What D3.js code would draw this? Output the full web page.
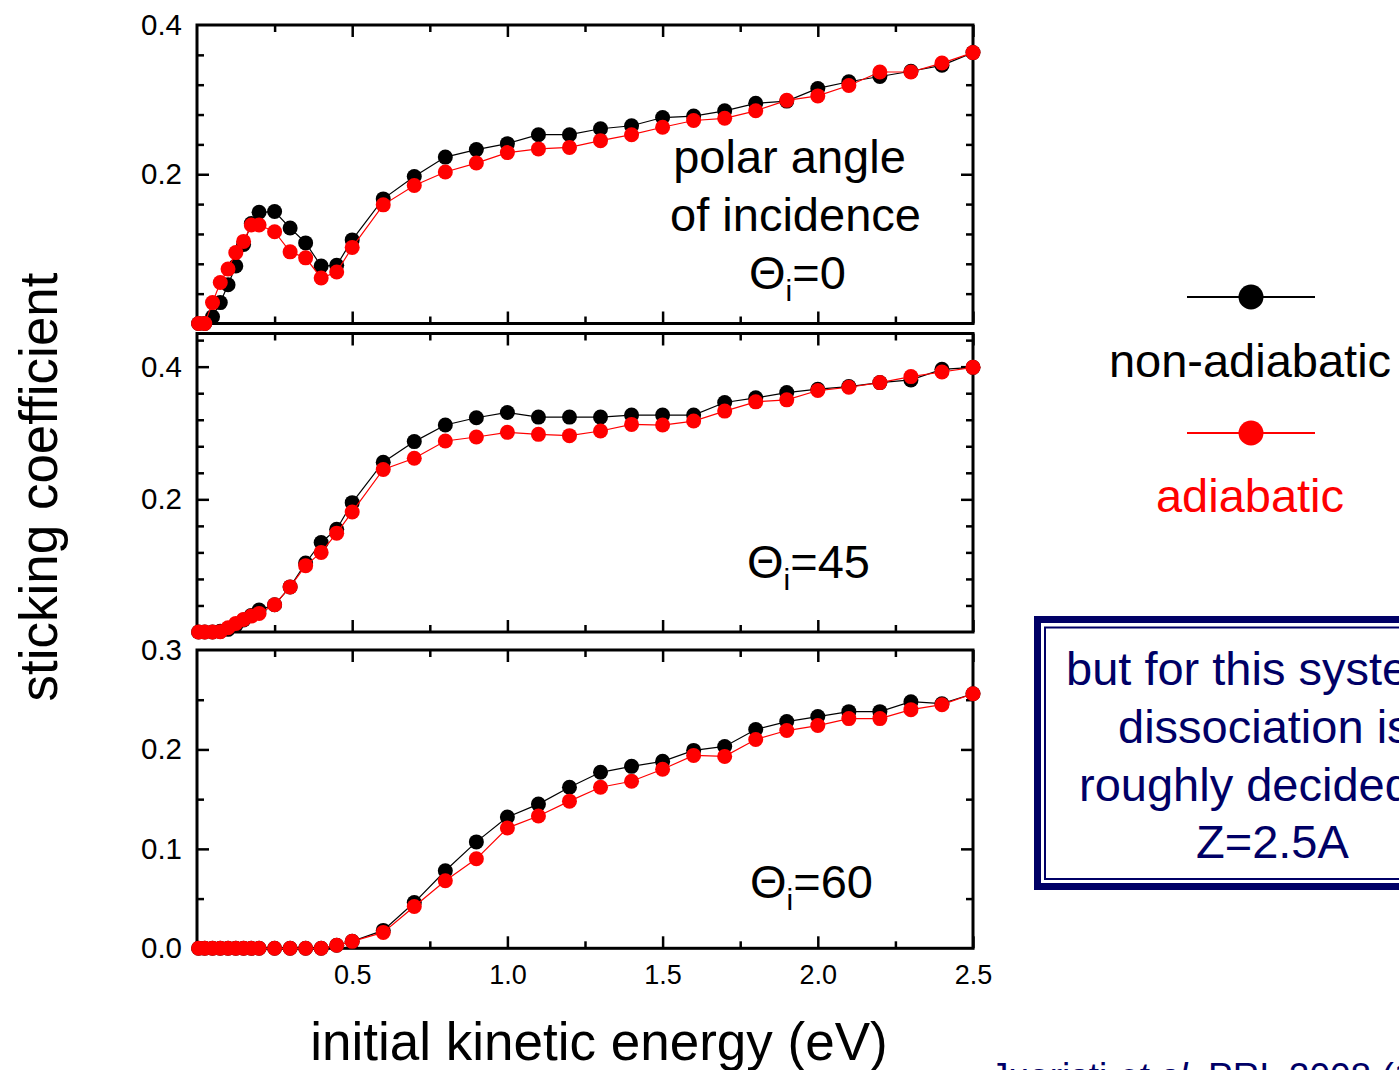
<!DOCTYPE html>
<html><head><meta charset="utf-8">
<script src="https://cdn.jsdelivr.net/npm/d3@7"></script>
<style>body{margin:0;background:#fff} svg{display:block} text{font-family:"Liberation Sans",Arial,sans-serif}</style>
</head><body>
<svg id="c" width="1399" height="1070"></svg>
<script>
// ---------- data ----------
const energies = [0.005,0.025,0.05,0.075,0.1,0.125,0.15,0.175,0.2,0.25,0.3,0.35,0.4,0.45,0.5,
  0.6,0.7,0.8,0.9,1.0,1.1,1.2,1.3,1.4,1.5,1.6,1.7,1.8,1.9,2.0,2.1,2.2,2.3,2.4,2.5];

const nonAdiabatic0 = [0,0,0.009,0.028,0.052,0.077,0.106,0.134,0.149,0.150,0.128,0.108,0.077,0.078,0.112,
  0.167,0.197,0.223,0.233,0.241,0.253,0.253,0.261,0.265,0.276,0.278,0.285,0.295,0.298,0.315,0.324,0.331,0.338,0.346,0.363];
const adiabatic0 = [0,0,0.028,0.055,0.073,0.095,0.110,0.132,0.132,0.123,0.096,0.088,0.061,0.069,0.102,
  0.159,0.185,0.203,0.215,0.229,0.234,0.236,0.245,0.253,0.263,0.272,0.275,0.285,0.299,0.305,0.319,0.337,0.337,0.349,0.363];

const nonAdiabatic45 = [0,0,0,0.001,0.004,0.010,0.018,0.025,0.033,0.041,0.068,0.104,0.135,0.155,0.195,
  0.256,0.287,0.312,0.323,0.331,0.324,0.324,0.324,0.327,0.327,0.327,0.346,0.353,0.361,0.366,0.370,0.376,0.380,0.396,0.399];
const adiabatic45 = [0,0,0,0.0005,0.0065,0.013,0.019,0.024,0.028,0.041,0.068,0.100,0.120,0.149,0.181,
  0.245,0.262,0.288,0.294,0.301,0.298,0.296,0.303,0.313,0.312,0.318,0.333,0.347,0.350,0.364,0.369,0.376,0.385,0.392,0.399];

const nonAdiabatic60 = [0,0,0,0,0,0,0,0,0,0,0,0,0,0.003,0.007,
  0.018,0.046,0.078,0.107,0.132,0.145,0.162,0.177,0.183,0.188,0.199,0.203,0.220,0.228,0.233,0.238,0.238,0.248,0.246,0.256];
const adiabatic60 = [0,0,0,0,0,0,0,0,0,0,0,0,0,0.003,0.007,
  0.016,0.042,0.068,0.090,0.121,0.133,0.148,0.162,0.168,0.180,0.194,0.193,0.210,0.219,0.224,0.231,0.231,0.240,0.245,0.256];

const xMajorTicks = [0.5,1.0,1.5,2.0,2.5];
const xMinorTicks = [0.25,0.75,1.25,1.75,2.25];
const xTickLabels = ["0.5","1.0","1.5","2.0","2.5"];
const panelAngles = ["0","45","60"];
const seriesNames = ["non-adiabatic","adiabatic"];
const boxLines = ["but for this system","dissociation is","roughly decided at","Z=2.5A"];

// ---------- layout ----------
const FONT = '"Liberation Sans",Arial,sans-serif';
const svg = d3.select("#c");
const X0 = 197, X1 = 973;
const x = d3.scaleLinear().domain([0,2.5]).range([X0,X1]);

const panels = [
  {top:25,  bottom:323.5, domain:[0,0.4],  majors:[0.2], minors:d3.range(1,10).map(i=>i*0.04).filter(v=>Math.abs(v-0.2)>1e-6),
   labels:[0.2,0.4], non:nonAdiabatic0, adi:adiabatic0},
  {top:333.5, bottom:632, domain:[0,0.45], majors:[0.2,0.4], minors:d3.range(1,12).map(i=>i*0.04).filter(v=>Math.abs(v-0.2)>1e-6&&Math.abs(v-0.4)>1e-6),
   labels:[0.2,0.4], non:nonAdiabatic45, adi:adiabatic45},
  {top:650, bottom:948.3, domain:[0,0.3], majors:[0.1,0.2], minors:[0.05,0.15,0.25],
   labels:[0.0,0.1,0.2,0.3], non:nonAdiabatic60, adi:adiabatic60}
];

function axis(gen, transform, values, size, fmt, pad, fs) {
  const g = svg.append("g").attr("transform", transform)
    .call(gen.tickValues(values).tickSize(size).tickFormat(fmt || (()=>"")).tickPadding(pad||0));
  g.select(".domain").remove();
  g.attr("font-family", FONT).attr("font-size", fs||10);
  g.selectAll(".tick line").attr("stroke","#000").attr("stroke-width",2.5);
  g.selectAll(".tick text").attr("fill","#000");
  return g;
}

panels.forEach((p, i) => {
  const y = d3.scaleLinear().domain(p.domain).range([p.bottom, p.top]);
  p.y = y;
  axis(d3.axisLeft(y), `translate(${X0},0)`, p.majors, -12);
  axis(d3.axisLeft(y), `translate(${X0},0)`, p.minors, -7);
  axis(d3.axisRight(y), `translate(${X1},0)`, p.majors, -12);
  axis(d3.axisRight(y), `translate(${X1},0)`, p.minors, -7);
  axis(d3.axisLeft(y), `translate(${X0},0)`, p.labels, 0, d3.format(".1f"), 15, 29.5);
  axis(d3.axisBottom(x), `translate(0,${p.bottom})`, xMajorTicks, -12);
  axis(d3.axisBottom(x), `translate(0,${p.bottom})`, xMinorTicks, -7);
  axis(d3.axisTop(x), `translate(0,${p.top})`, xMajorTicks, -12);
  axis(d3.axisTop(x), `translate(0,${p.top})`, xMinorTicks, -7);
  if (i === 2) {
    axis(d3.axisBottom(x), `translate(0,${p.bottom})`, xMajorTicks, 0, (d,k)=>xTickLabels[k], 17, 27);
  }
  svg.append("rect").attr("x",X0).attr("y",p.top).attr("width",X1-X0).attr("height",p.bottom-p.top)
    .attr("fill","none").attr("stroke","#000").attr("stroke-width",3);

  const line = d3.line().x((d,k)=>x(energies[k])).y(d=>y(d));
  [[p.non,"#000"],[p.adi,"#ff0000"]].forEach(([vals,col]) => {
    svg.append("path").attr("d", line(vals)).attr("fill","none").attr("stroke",col).attr("stroke-width",1.2);
    svg.append("g").selectAll("circle").data(vals).join("circle")
      .attr("cx",(d,k)=>x(energies[k])).attr("cy",d=>y(d)).attr("r",7.5).attr("fill",col);
  });
});

function theta(xs, yb, val) {
  const t = svg.append("text").attr("x",xs).attr("y",yb).attr("font-size",47).attr("fill","#000");
  t.append("tspan").text("\u0398");
  t.append("tspan").attr("font-size",30).attr("dy",12).text("i");
  t.append("tspan").attr("dy",-12).text("=" + val);
}
svg.append("text").attr("x",789.5).attr("y",173).attr("text-anchor","middle").attr("font-size",47).text("polar angle");
svg.append("text").attr("x",795.5).attr("y",231).attr("text-anchor","middle").attr("font-size",47).text("of incidence");
theta(749, 289, panelAngles[0]);
theta(747, 578, panelAngles[1]);
theta(750, 898, panelAngles[2]);

svg.append("text").attr("transform","translate(57,487) rotate(-90)").attr("text-anchor","middle")
  .attr("font-size",53).text("sticking coefficient");
svg.append("text").attr("x",599).attr("y",1060).attr("text-anchor","middle")
  .attr("font-size",53).text("initial kinetic energy (eV)");

const legend = [{y:297, ty:377, col:"#000"},{y:433, ty:512, col:"#ff0000"}];
legend.forEach((l,k) => {
  svg.append("line").attr("x1",1187).attr("x2",1315).attr("y1",l.y).attr("y2",l.y).attr("stroke",l.col).attr("stroke-width",2);
  svg.append("circle").attr("cx",1251).attr("cy",l.y).attr("r",12.5).attr("fill",l.col);
  svg.append("text").attr("x",1250).attr("y",l.ty).attr("text-anchor","middle").attr("font-size",47)
    .attr("fill",l.col).text(seriesNames[k]);
});

const NAVY = "#000066";
svg.append("rect").attr("x",1037.5).attr("y",619.5).attr("width",420).attr("height",267)
  .attr("fill","none").attr("stroke",NAVY).attr("stroke-width",7);
svg.append("rect").attr("x",1045).attr("y",627.5).attr("width",420).attr("height",251.5)
  .attr("fill","none").attr("stroke",NAVY).attr("stroke-width",2);
const boxX = [1066,1118,1079,1196], boxY = [685,743,801,858];
boxLines.forEach((s,k) => {
  svg.append("text").attr("x",boxX[k]).attr("y",boxY[k]).attr("font-size",47).attr("fill",NAVY).text(s);
});

const cit = svg.append("text").attr("x",990).attr("y",1089).attr("font-size",37).attr("fill",NAVY);
cit.append("tspan").text("Juaristi ");
cit.append("tspan").attr("font-style","italic").text("et al.");
cit.append("tspan").text(" PRL 2008 (100, 116102)");
</script>
</body></html>
